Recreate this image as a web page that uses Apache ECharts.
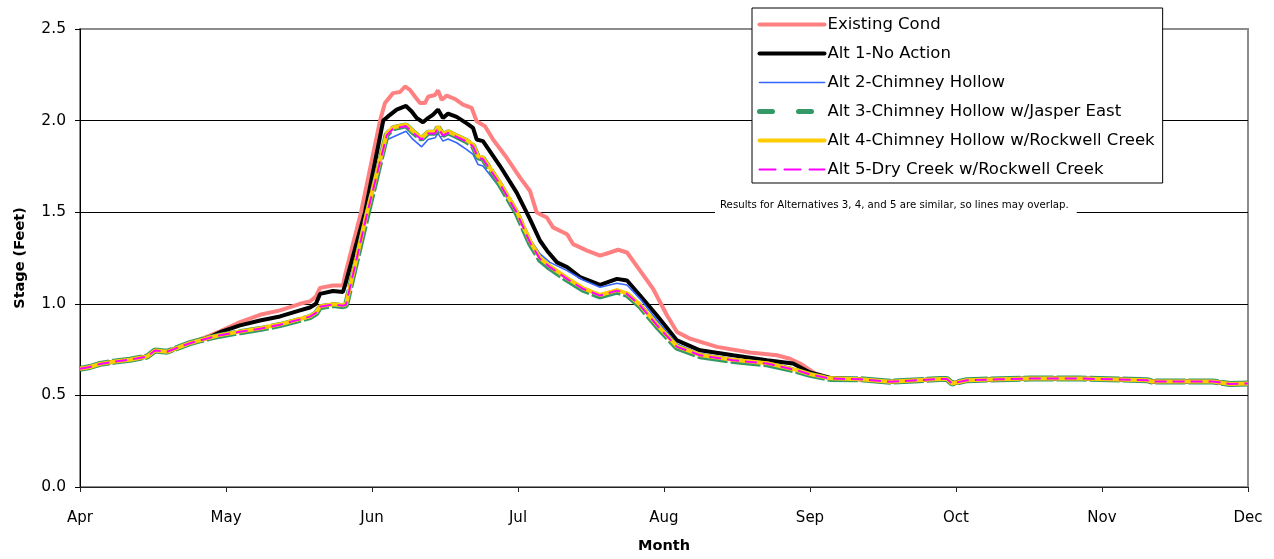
<!DOCTYPE html>
<html>
<head>
<meta charset="utf-8">
<script src="https://cdn.jsdelivr.net/npm/echarts@6/dist/echarts.min.js"></script>
<style>
html,body{margin:0;padding:0;background:#fff;}
#chart{width:1274px;height:559px;}
</style>
</head>
<body>
<div id="chart"></div>
<script>
// Month tick labels (x value = months since Apr 1)
const monthLabels = ['Apr','May','Jun','Jul','Aug','Sep','Oct','Nov','Dec'];
const seriesNames = ['Existing Cond','Alt 1-No Action','Alt 2-Chimney Hollow','Alt 3-Chimney Hollow w/Jasper East','Alt 4-Chimney Hollow w/Rockwell Creek','Alt 5-Dry Creek w/Rockwell Creek'];

// Shared early (April) portion, all lines overlap
const commonEarly = [[0,0.645],[0.068,0.655],[0.137,0.672],[0.240,0.685],[0.342,0.695],[0.459,0.712],[0.514,0.745],[0.596,0.738],[0.685,0.765],[0.753,0.785]];
// Shared late (Sep-Nov) portion, all lines overlap
const commonLate = [[5.342,0.588],[5.548,0.575],[5.890,0.589],[5.938,0.590],[5.973,0.565],[6.075,0.583],[6.301,0.588],[6.507,0.592],[6.849,0.592],[7.308,0.583],[7.342,0.576],[7.760,0.576],[7.877,0.562],[8.0,0.565]];

const existingMid = [[0.822,0.805],[0.959,0.85],[1.096,0.90],[1.233,0.94],[1.370,0.964],[1.507,1.0],[1.575,1.013],[1.616,1.04],[1.644,1.087],[1.733,1.10],[1.801,1.10],[1.815,1.154],[1.925,1.5],[2.055,2.0],[2.089,2.096],[2.144,2.15],[2.192,2.156],[2.226,2.186],[2.260,2.168],[2.295,2.13],[2.329,2.096],[2.363,2.096],[2.384,2.13],[2.432,2.14],[2.452,2.165],[2.477,2.114],[2.512,2.136],[2.568,2.118],[2.623,2.087],[2.683,2.069],[2.717,1.996],[2.774,1.969],[2.829,1.897],[2.923,1.797],[3.014,1.689],[3.082,1.616],[3.128,1.498],[3.197,1.471],[3.240,1.417],[3.336,1.38],[3.377,1.326],[3.473,1.29],[3.562,1.263],[3.630,1.28],[3.685,1.295],[3.747,1.28],[3.836,1.181],[3.925,1.082],[4.021,0.936],[4.089,0.846],[4.178,0.81],[4.363,0.765],[4.589,0.734],[4.774,0.719],[4.863,0.70],[4.932,0.674],[5.034,0.62],[5.137,0.595]];

const alt1Mid = [[0.822,0.80],[0.890,0.818],[0.959,0.845],[1.096,0.882],[1.233,0.909],[1.370,0.931],[1.507,0.964],[1.575,0.98],[1.616,1.0],[1.644,1.054],[1.733,1.07],[1.801,1.065],[1.815,1.10],[1.952,1.5],[2.077,2.0],[2.110,2.023],[2.169,2.06],[2.233,2.08],[2.272,2.05],[2.306,2.014],[2.349,1.991],[2.384,2.014],[2.418,2.033],[2.452,2.06],[2.486,2.014],[2.521,2.038],[2.580,2.02],[2.649,1.985],[2.692,1.96],[2.717,1.897],[2.760,1.888],[2.877,1.752],[2.991,1.607],[3.082,1.462],[3.151,1.344],[3.199,1.29],[3.267,1.226],[3.336,1.20],[3.425,1.146],[3.562,1.103],[3.678,1.136],[3.747,1.127],[3.836,1.045],[3.952,0.936],[4.089,0.80],[4.247,0.746],[4.473,0.719],[4.705,0.692],[4.884,0.674],[5.0,0.625],[5.137,0.595]];

const alt2Mid = [[0.822,0.80],[0.890,0.815],[0.959,0.83],[1.096,0.85],[1.233,0.867],[1.370,0.889],[1.507,0.918],[1.575,0.933],[1.616,0.953],[1.644,0.987],[1.733,0.998],[1.801,0.992],[1.822,0.997],[1.973,1.5],[2.101,1.895],[2.144,1.91],[2.233,1.942],[2.281,1.897],[2.340,1.857],[2.384,1.897],[2.432,1.906],[2.452,1.93],[2.486,1.888],[2.521,1.90],[2.580,1.879],[2.649,1.842],[2.692,1.815],[2.726,1.761],[2.760,1.752],[2.877,1.634],[2.991,1.498],[3.082,1.353],[3.151,1.272],[3.219,1.226],[3.336,1.181],[3.445,1.13],[3.562,1.09],[3.678,1.112],[3.747,1.103],[3.836,1.027],[3.952,0.91],[4.089,0.78],[4.247,0.728],[4.473,0.70],[4.705,0.68],[4.911,0.642],[5.0,0.618],[5.137,0.593]];

const alt3Mid = [[0.822,0.80],[0.890,0.814],[0.959,0.826],[1.096,0.845],[1.233,0.862],[1.370,0.884],[1.507,0.912],[1.575,0.927],[1.616,0.947],[1.644,0.981],[1.733,0.993],[1.801,0.987],[1.822,0.992],[1.972,1.5],[2.101,1.924],[2.144,1.958],[2.233,1.974],[2.281,1.937],[2.340,1.9],[2.384,1.933],[2.432,1.933],[2.452,1.963],[2.486,1.921],[2.521,1.936],[2.580,1.914],[2.649,1.887],[2.692,1.862],[2.726,1.799],[2.760,1.792],[2.877,1.65],[2.991,1.494],[3.082,1.33],[3.151,1.24],[3.219,1.195],[3.336,1.131],[3.445,1.077],[3.562,1.04],[3.678,1.067],[3.747,1.049],[3.836,0.986],[3.952,0.877],[4.089,0.76],[4.247,0.714],[4.473,0.688],[4.705,0.67],[4.911,0.633],[5.0,0.612],[5.137,0.59]];

const alt4Mid = [[0.822,0.80],[0.890,0.816],[0.959,0.829],[1.096,0.848],[1.233,0.866],[1.370,0.888],[1.507,0.917],[1.575,0.932],[1.616,0.952],[1.644,0.986],[1.733,0.998],[1.801,0.992],[1.822,0.997],[1.966,1.5],[2.101,1.93],[2.144,1.962],[2.233,1.978],[2.281,1.942],[2.340,1.905],[2.384,1.938],[2.432,1.938],[2.452,1.968],[2.486,1.926],[2.521,1.941],[2.580,1.919],[2.649,1.893],[2.692,1.868],[2.726,1.805],[2.760,1.798],[2.877,1.66],[2.991,1.505],[3.082,1.342],[3.151,1.25],[3.219,1.205],[3.336,1.14],[3.445,1.086],[3.562,1.048],[3.678,1.075],[3.747,1.057],[3.836,0.994],[3.952,0.885],[4.089,0.768],[4.247,0.721],[4.473,0.694],[4.705,0.676],[4.911,0.638],[5.0,0.616],[5.137,0.593]];

const alt5Mid = [[0.822,0.80],[0.890,0.815],[0.959,0.828],[1.096,0.847],[1.233,0.864],[1.370,0.886],[1.507,0.915],[1.575,0.93],[1.616,0.95],[1.644,0.984],[1.733,0.996],[1.801,0.99],[1.822,0.995],[1.969,1.5],[2.101,1.92],[2.144,1.955],[2.233,1.97],[2.281,1.933],[2.340,1.897],[2.384,1.93],[2.432,1.93],[2.452,1.96],[2.486,1.918],[2.521,1.933],[2.580,1.911],[2.649,1.885],[2.692,1.86],[2.726,1.797],[2.760,1.79],[2.877,1.652],[2.991,1.498],[3.082,1.335],[3.151,1.245],[3.219,1.20],[3.336,1.136],[3.445,1.082],[3.562,1.045],[3.678,1.072],[3.747,1.054],[3.836,0.991],[3.952,0.882],[4.089,0.765],[4.247,0.719],[4.473,0.692],[4.705,0.674],[4.911,0.637],[5.0,0.615],[5.137,0.592]];

const note = 'Results for Alternatives 3, 4, and 5 are similar, so lines may overlap.';

const full = mid => commonEarly.concat(mid, commonLate);

const styles = [
  {color:'#FF8080', width:4, type:'solid', legendType:'solid', legendWidth:4},
  {color:'#000000', width:4, type:'solid', legendType:'solid', legendWidth:4},
  {color:'#3366FF', width:1.6, type:'solid', legendType:'solid', legendWidth:1.6},
  {color:'#339966', width:6, type:[30,3], legendType:[13,26], legendWidth:5},
  {color:'#FFCC00', width:4, type:'solid', legendType:'solid', legendWidth:4},
  {color:'#FF00FF', width:2, type:[12,6], legendType:[16,9], legendWidth:2}
];
const mids = [existingMid, alt1Mid, alt2Mid, alt3Mid, alt4Mid, alt5Mid];

const chart = echarts.init(document.getElementById('chart'));
const option = {
  backgroundColor:'#fff',
  animation:false,
  grid:{left:80, right:26, top:29, bottom:70, show:true, borderColor:'#8c8c8c', borderWidth:2, backgroundColor:'transparent'},
  title:{
    text: note, left:715, top:197,
    backgroundColor:'#fff', padding:[3,8,4,5],
    textStyle:{fontFamily:'DejaVu Sans', fontSize:10.2, fontWeight:'normal', color:'#000'}
  },
  legend:{
    orient:'vertical', left:752, top:8,
    backgroundColor:'#fff', borderColor:'#000', borderWidth:1,
    padding:[8,8,5,5], itemWidth:65, itemHeight:14, itemGap:12,
    itemStyle:{color:'transparent', borderColor:'transparent', borderWidth:0, opacity:0},
    textStyle:{fontFamily:'DejaVu Sans', fontSize:16.5, color:'#000', padding:[0,0,0,-2]},
    data: seriesNames.map((n,i)=>({name:n, itemStyle:{color:'transparent', borderColor:'transparent', borderWidth:0, opacity:0}, lineStyle:{color:styles[i].color, type:styles[i].legendType, width:styles[i].legendWidth, cap:'round'}}))
  },
  xAxis:{
    type:'value', min:0, max:8, interval:1,
    name:'Month', nameLocation:'middle', nameGap:52,
    nameTextStyle:{fontFamily:'DejaVu Sans', fontSize:14.5, fontWeight:'bold', color:'#000'},
    axisLine:{show:true, onZero:false, lineStyle:{color:'#222', width:1}},
    axisTick:{show:true, inside:false, length:5, lineStyle:{color:'#222'}},
    axisLabel:{margin:24, fontFamily:'DejaVu Sans', fontSize:15, color:'#000', formatter:v=>monthLabels[Math.round(v)]},
    splitLine:{show:false}
  },
  yAxis:{
    type:'value', min:0, max:2.5, interval:0.5,
    name:'Stage (Feet)', nameLocation:'middle', nameGap:52, nameRotate:90,
    nameTextStyle:{fontFamily:'DejaVu Sans', fontSize:14.5, fontWeight:'bold', color:'#000'},
    axisLine:{show:true, lineStyle:{color:'#000', width:1}},
    axisTick:{show:true, inside:false, length:5, lineStyle:{color:'#000'}},
    axisLabel:{margin:14, fontFamily:'DejaVu Sans', fontSize:15.5, color:'#000', formatter:v=>v.toFixed(1)},
    splitLine:{show:true, lineStyle:{color:['#000','#000','#000','#000','#000','#8c8c8c'], width:1}}
  },
  series: seriesNames.map((n,i)=>({
    name:n, type:'line', data: full(mids[i]), symbol:'none', smooth:false,
    lineStyle:{color:styles[i].color, width:styles[i].width, type:styles[i].type},
    itemStyle:{color:styles[i].color},
    z: 2+i
  }))
};
chart.setOption(option);
</script>
</body>
</html>
